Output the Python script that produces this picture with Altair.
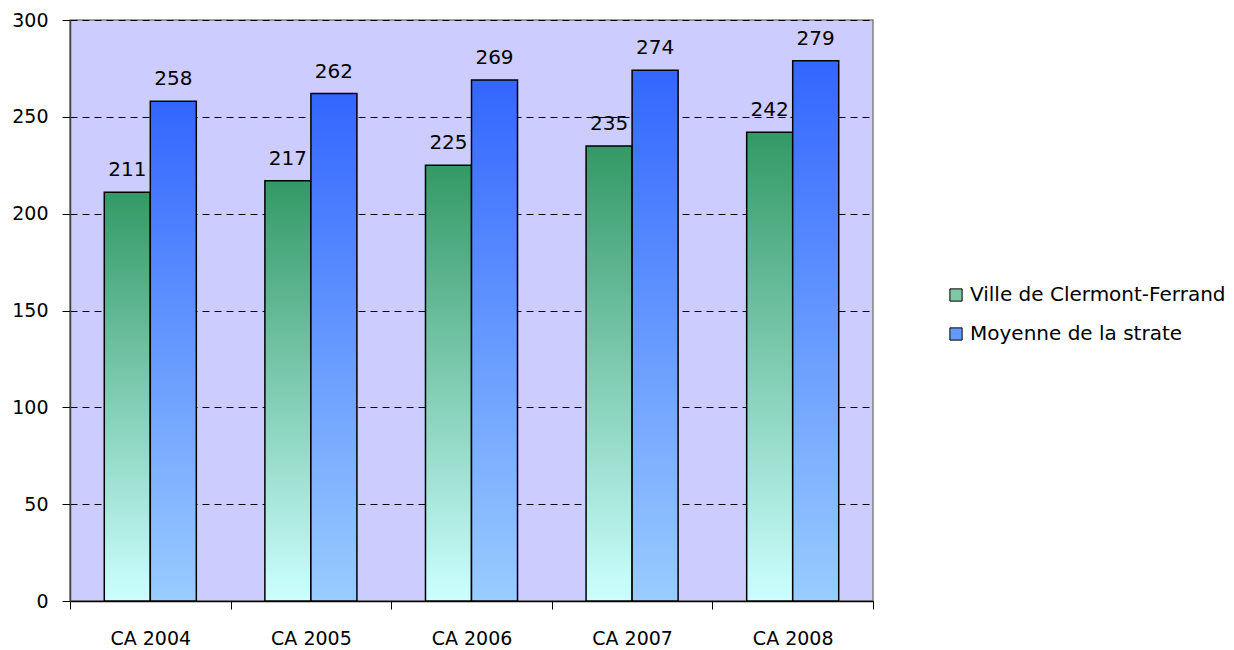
import altair as alt
import pandas as pd

years = ["CA 2004", "CA 2005", "CA 2006", "CA 2007", "CA 2008"]
series = ["Ville de Clermont-Ferrand", "Moyenne de la strate"]
ville = [211, 217, 225, 235, 242]
moyenne = [258, 262, 269, 274, 279]

rows = []
for i, y in enumerate(years):
    rows.append({"Year": y, "Series": series[0], "Value": ville[i]})
    rows.append({"Year": y, "Series": series[1], "Value": moyenne[i]})
df = pd.DataFrame(rows)

FONT = "DejaVu Sans"

green_grad = {"gradient": "linear", "x1": 0, "y1": 0, "x2": 0, "y2": 1,
              "stops": [{"offset": 0, "color": "#339966"},
                        {"offset": 1, "color": "#CCFFFF"}]}
blue_grad = {"gradient": "linear", "x1": 0, "y1": 0, "x2": 0, "y2": 1,
             "stops": [{"offset": 0, "color": "#3366FF"},
                       {"offset": 1, "color": "#99CCFF"}]}

x_enc = alt.X("Year:N", sort=years,
              scale=alt.Scale(paddingInner=0, paddingOuter=0),
              axis=alt.Axis(title=None, labelAngle=0, tickBand="extent",
                            labelFont=FONT, labelFontSize=19, labelColor="black",
                            labelPadding=20, tickSize=8, tickColor="black",
                            domainColor="black", domainWidth=1.5))
xo_enc = alt.XOffset("Series:N", sort=series,
                     scale=alt.Scale(domain=series, paddingInner=0, paddingOuter=0.745))
y_enc = alt.Y("Value:Q",
              scale=alt.Scale(domain=[0, 300], nice=False),
              axis=alt.Axis(title=None, values=[0, 50, 100, 150, 200, 250, 300],
                            labelFont=FONT, labelFontSize=19, labelColor="black",
                            labelPadding=14, tickSize=8, tickColor="black",
                            domainColor="#404040", domainWidth=1.5,
                            grid=True, gridColor="black", gridDash=[7, 5],
                            gridWidth=1))

base = alt.Chart(df)

bars_green = base.transform_filter(alt.datum.Series == series[0]).mark_bar(
    color=green_grad, stroke="black", strokeWidth=1.5
).encode(x=x_enc, xOffset=xo_enc, y=y_enc)

bars_blue = base.transform_filter(alt.datum.Series == series[1]).mark_bar(
    color=blue_grad, stroke="black", strokeWidth=1.5
).encode(x=x_enc, xOffset=xo_enc, y=y_enc)

labels = base.mark_text(dy=-12, baseline="bottom", font=FONT, fontSize=20,
                        color="black").encode(
    x=x_enc, xOffset=xo_enc, y=y_enc, text=alt.Text("Value:Q"))

legend_layer = base.mark_square(size=0, opacity=0).encode(
    x=x_enc, xOffset=xo_enc, y=y_enc,
    color=alt.Color("Series:N", sort=series,
                    scale=alt.Scale(domain=series, range=["#7FC7A6", "#6699FF"]),
                    legend=alt.Legend(title=None, orient="none", legendX=876, legendY=265,
                                      symbolType="square", symbolSize=150,
                                      symbolStrokeColor="black", symbolStrokeWidth=1,
                                      symbolOpacity=1,
                                      labelFont=FONT, labelFontSize=20, labelColor="black",
                                      labelLimit=0, rowPadding=19, labelOffset=4))
)

chart = alt.layer(bars_green, bars_blue, labels, legend_layer).properties(
    width=803, height=581,
    autosize=alt.AutoSizeParams(type="none"),
    padding={"left": 62, "top": 12, "right": 352, "bottom": 48},
).configure_view(fill="#CCCCFF", stroke="#808080", strokeWidth=1.5)

chart.save("out.html", embed_options={"renderer": "svg", "actions": False})
